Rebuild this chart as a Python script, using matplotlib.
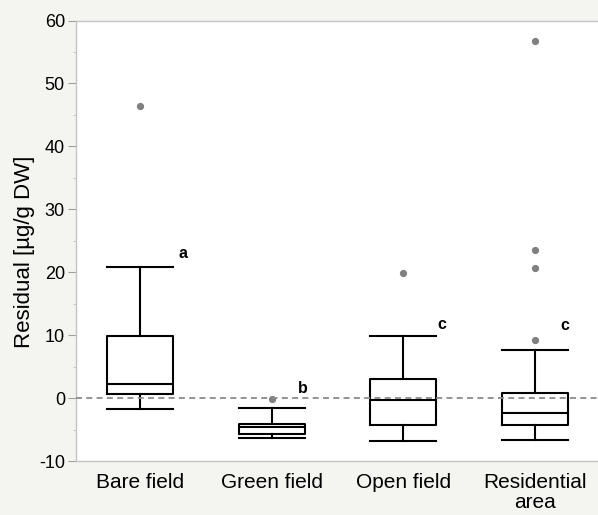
import matplotlib
matplotlib.use("Agg")
import matplotlib.pyplot as plt
from matplotlib.ticker import MultipleLocator

plt.rcParams['font.family'] = ['Liberation Sans', 'DejaVu Sans']
plt.rcParams['axes.unicode_minus'] = False

categories = ["Bare field", "Green field", "Open field", "Residential\narea"]
# box statistics: lower whisker, Q1, median, Q3, upper whisker
whislo = [-1.7, -6.3, -6.8, -6.6]
q1 = [0.6, -5.7, -4.2, -4.2]
med = [2.3, -4.6, -0.3, -2.3]
q3 = [9.8, -4.1, 3.0, 0.75]
whishi = [20.8, -1.6, 9.9, 7.6]
outliers = [[46.4], [-0.2], [19.8], [56.7, 23.5, 20.6, 9.3]]
letters = ["a", "b", "c", "c"]
letter_y = [22.9, 1.5, 11.7, 11.5]
letter_dx = [0.29, 0.2, 0.26, 0.19]

bg = "#f4f4f0"
fig = plt.figure(figsize=(5.98, 5.15), dpi=100, facecolor=bg)
ax = fig.add_axes([76/598, 1 - 461/515, 1 - 76/598, (461 - 20.5)/515])
ax.set_facecolor("white")

stats = []
for i in range(len(categories)):
    stats.append(dict(whislo=whislo[i], q1=q1[i], med=med[i], q3=q3[i],
                      whishi=whishi[i], fliers=outliers[i], label=categories[i]))

lw = 1.5
ax.bxp(stats, positions=range(len(categories)), widths=0.5, showfliers=True,
       boxprops=dict(color="black", linewidth=lw),
       whiskerprops=dict(color="black", linewidth=lw),
       capprops=dict(color="black", linewidth=lw),
       medianprops=dict(color="black", linewidth=lw),
       flierprops=dict(marker="o", markersize=4.2, markerfacecolor="#808080",
                       markeredgecolor="#808080"),
       capwidths=0.5)

ax.axhline(0, color="#8a8a8a", linestyle=(0, (3.3, 2.4)), linewidth=1.3, zorder=5)

for i, (l, y, dx) in enumerate(zip(letters, letter_y, letter_dx)):
    ax.text(i + dx, y, l, fontsize=11.5, fontweight="bold", ha="left", va="center")

ax.set_xlim(-0.486, 3.478)
ax.set_ylim(-10, 60)
ax.yaxis.set_major_locator(MultipleLocator(10))
ax.yaxis.set_minor_locator(MultipleLocator(5))
ax.set_xticks(range(len(categories)))
ax.set_xticklabels(categories, fontsize=15)
for lbl in ax.get_xticklabels():
    lbl.set_linespacing(1.0)
ax.tick_params(axis="x", length=0, pad=9)
ax.tick_params(axis="y", which="major", length=6, color="#a0a0a0", labelsize=13, pad=2)
ax.tick_params(axis="y", which="minor", length=2.5, color="#c0c0c0")
ax.set_ylabel("Residual [µg/g DW]", fontsize=16)
ax.yaxis.set_label_coords(-0.079, 0.474)

for s in ["left", "top", "bottom"]:
    ax.spines[s].set_color("#c4c4c4")
    ax.spines[s].set_linewidth(1.0)
ax.spines["right"].set_visible(False)

fig.savefig("out.png", dpi=100, facecolor=bg)
